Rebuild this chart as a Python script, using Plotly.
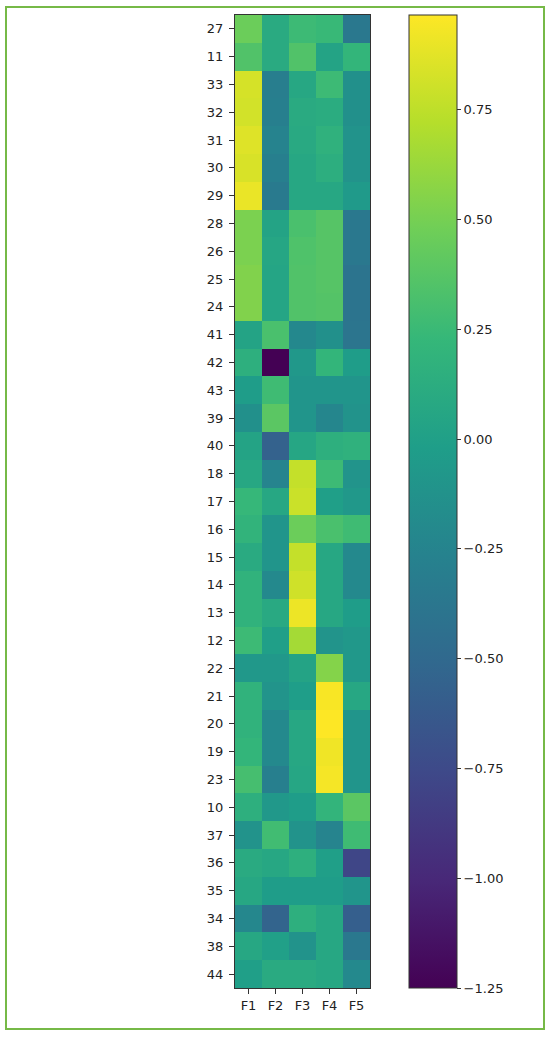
import plotly.graph_objects as go

rows = ["27", "11", "33", "32", "31", "30", "29", "28", "26", "25", "24", "41", "42",
        "43", "39", "40", "18", "17", "16", "15", "14", "13", "12", "22", "21", "20",
        "19", "23", "10", "37", "36", "35", "34", "38", "44"]
cols = ["F1", "F2", "F3", "F4", "F5"]

F1 = [0.46, 0.35, 0.83, 0.82, 0.86, 0.84, 0.90, 0.52, 0.52, 0.54, 0.54, 0.035, 0.15,
      -0.03, -0.14, 0.035, 0.07, 0.23, 0.19, 0.10, 0.18, 0.18, 0.26, -0.075, 0.18, 0.18,
      0.21, 0.30, 0.15, -0.12, 0.10, 0.07, -0.22, 0.07, -0.01]
F2 = [0.10, 0.10, -0.30, -0.29, -0.26, -0.29, -0.34, 0.035, 0.06, 0.05, 0.05, 0.32, -1.25,
      0.27, 0.39, -0.56, -0.25, 0.07, -0.10, -0.10, -0.20, 0.09, -0.01, -0.075, -0.11, -0.20,
      -0.20, -0.29, -0.075, 0.28, 0.07, -0.03, -0.54, 0.00, 0.10]
F3 = [0.26, 0.35, 0.07, 0.10, 0.09, 0.07, 0.07, 0.32, 0.34, 0.35, 0.35, -0.21, -0.075,
      -0.10, -0.10, 0.06, 0.77, 0.79, 0.46, 0.77, 0.81, 0.91, 0.66, 0.035, -0.02, 0.07,
      0.07, 0.06, -0.03, -0.12, 0.15, -0.03, 0.15, -0.12, 0.10]
F4 = [0.24, 0.035, 0.26, 0.12, 0.17, 0.14, 0.07, 0.37, 0.37, 0.37, 0.36, -0.14, 0.21,
      -0.10, -0.23, 0.15, 0.26, -0.01, 0.32, 0.07, 0.07, 0.07, -0.11, 0.55, 0.95, 0.966,
      0.92, 0.94, 0.20, -0.25, -0.01, -0.03, 0.07, 0.07, 0.07]
F5 = [-0.36, 0.21, -0.14, -0.14, -0.12, -0.12, -0.05, -0.36, -0.36, -0.40, -0.40, -0.39, -0.03,
      -0.10, -0.12, 0.17, -0.11, -0.075, 0.27, -0.20, -0.20, -0.03, -0.075, -0.075, 0.07, -0.10,
      -0.10, -0.10, 0.39, 0.27, -0.78, -0.10, -0.585, -0.36, -0.20]

cbar_vals = [0.75, 0.5, 0.25, 0.0, -0.25, -0.5, -0.75, -1.0, -1.25]
cbar_text = ["0.75", "0.50", "0.25", "0.00", "\u22120.25", "\u22120.50", "\u22120.75",
             "\u22121.00", "\u22121.25"]

z = [[F1[i], F2[i], F3[i], F4[i], F5[i]] for i in range(len(rows))]

fig = go.Figure(go.Heatmap(
    z=z, x=cols, y=rows, colorscale="Viridis", zmin=-1.25, zmax=0.966,
    xgap=0, ygap=0,
    colorbar=dict(
        x=(409 - 235) / 135, xanchor="left", xref="paper",
        y=0.5, yanchor="middle", len=973, lenmode="pixels",
        thickness=48, thicknessmode="pixels",
        outlinewidth=1, outlinecolor="#333",
        tickvals=cbar_vals, ticktext=cbar_text,
        ticks="outside", ticklen=4, tickcolor="#333",
        tickfont=dict(family="DejaVu Sans", size=13, color="#222"),
        xpad=0, ypad=0,
    ),
))

axis_common = dict(
    type="category", showline=True, linecolor="#333", linewidth=1, mirror=True,
    ticks="outside", ticklen=5, tickcolor="#333", showgrid=False, zeroline=False,
    tickfont=dict(family="DejaVu Sans", size=13, color="#222"),
)
fig.update_xaxes(**axis_common)
fig.update_yaxes(**axis_common, autorange="reversed", ticklabelstandoff=3)

fig.add_shape(type="rect", xref="paper", yref="paper",
              x0=(6 - 235) / 135, x1=(544 - 235) / 135,
              y0=(988 - 1029) / 973, y1=(988 - 7) / 973,
              line=dict(color="#76b947", width=2), fillcolor="rgba(0,0,0,0)", layer="below")

fig.update_layout(
    width=550, height=1037,
    margin=dict(l=235, r=180, t=15, b=49),
    paper_bgcolor="white", plot_bgcolor="white",
    font=dict(family="DejaVu Sans"),
)

fig.write_html("out.html", config={"displayModeBar": False},
               post_script="document.body.style.margin='0';")
